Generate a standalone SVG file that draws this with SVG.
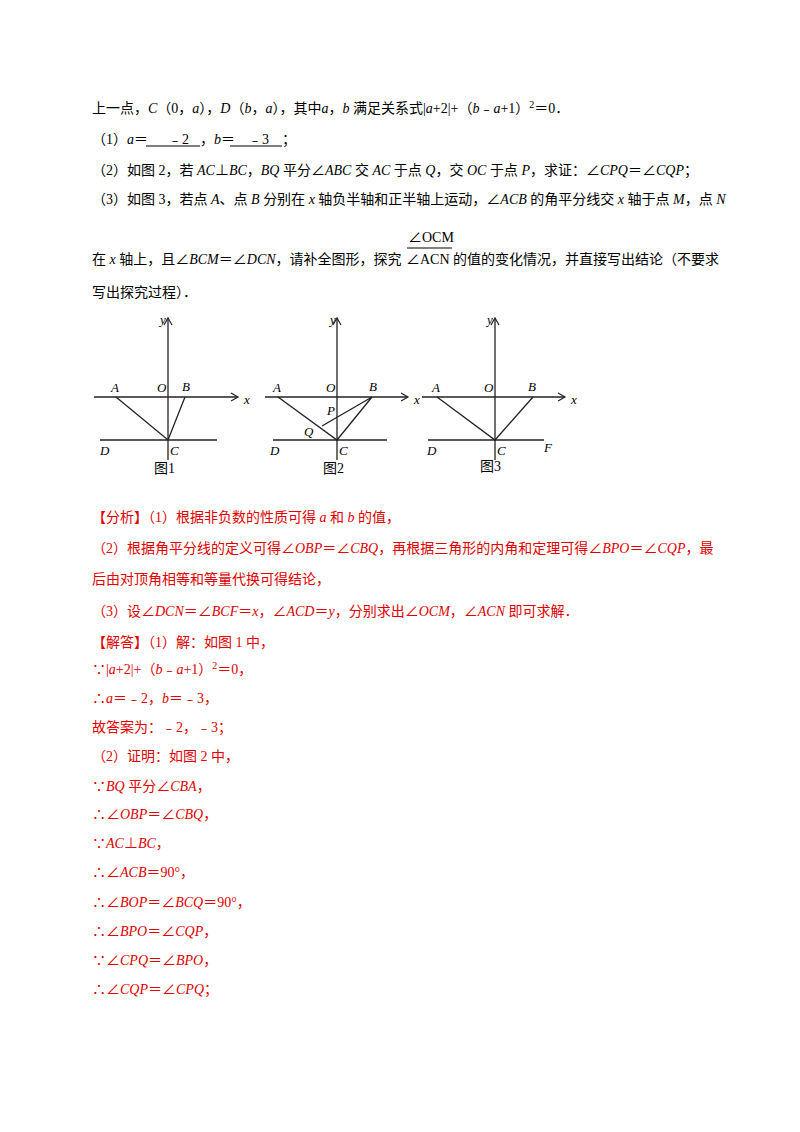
<svg xmlns="http://www.w3.org/2000/svg" width="800" height="1132" viewBox="0 0 800 1132">
<style>
text{font-family:"Liberation Serif","Noto Sans CJK SC",serif;font-size:14px;fill:#000}
.r{fill:#e00000}
.i{font-style:italic}
.ln{stroke:#222;stroke-width:1.3;fill:none}
.lb{font-style:italic;font-size:13px}
</style>
<defs><marker id="ar" markerWidth="10" markerHeight="10" refX="8" refY="5" orient="auto" markerUnits="userSpaceOnUse"><path d="M1,1 L8,5 L1,9" fill="none" stroke="#222" stroke-width="1.2"/></marker></defs>
<rect width="800" height="1132" fill="#fff"/>
<g id="question">
<text x="92" y="113">上一点，<tspan class="i">C</tspan>（0，<tspan class="i">a</tspan>），<tspan class="i">D</tspan>（<tspan class="i">b</tspan>，<tspan class="i">a</tspan>），其中<tspan class="i">a</tspan>，<tspan class="i">b</tspan> 满足关系式|<tspan class="i">a</tspan>+2|+（<tspan class="i">b</tspan>﹣<tspan class="i">a</tspan>+1）<tspan dy="-5" font-size="10">2</tspan><tspan dy="5">＝0．</tspan></text>
<text x="92" y="144">（1）<tspan class="i">a</tspan>＝</text>
<text x="168" y="144">﹣2</text>
<text x="200" y="144">，<tspan class="i">b</tspan>＝</text>
<text x="248" y="144">﹣3</text>
<text x="282" y="144">；</text>
<line x1="146" y1="146" x2="200" y2="146" stroke="#000" stroke-width="1"/>
<line x1="230" y1="146" x2="282" y2="146" stroke="#000" stroke-width="1"/>
<text x="92" y="175">（2）如图 2，若 <tspan class="i">AC</tspan>⊥<tspan class="i">BC</tspan>，<tspan class="i">BQ</tspan> 平分∠<tspan class="i">ABC</tspan> 交 <tspan class="i">AC</tspan> 于点 <tspan class="i">Q</tspan>，交 <tspan class="i">OC</tspan> 于点 <tspan class="i">P</tspan>，求证：∠<tspan class="i">CPQ</tspan>＝∠<tspan class="i">CQP</tspan>；</text>
<text x="92" y="204">（3）如图 3，若点 <tspan class="i">A</tspan>、点 <tspan class="i">B</tspan> 分别在 <tspan class="i">x</tspan> 轴负半轴和正半轴上运动，∠<tspan class="i">ACB</tspan> 的角平分线交 <tspan class="i">x</tspan> 轴于点 <tspan class="i">M</tspan>，点 <tspan class="i">N</tspan></text>
<text x="92" y="264">在 <tspan class="i">x</tspan> 轴上，且∠<tspan class="i">BCM</tspan>＝∠<tspan class="i">DCN</tspan>，请补全图形，探究</text>
<text x="408" y="242" font-size="13">∠OCM</text>
<line x1="407" y1="248" x2="452" y2="248" stroke="#000" stroke-width="1"/>
<text x="406" y="264" font-size="13">∠ACN</text>
<text x="453" y="264">的值的变化情况，并直接写出结论（不要求</text>
<text x="92" y="297">写出探究过程）．</text>
</g>
<g id="connectors">
<line class="ln" x1="168" y1="460" x2="168" y2="318" marker-end="url(#ar)"/>
<line class="ln" x1="94" y1="397" x2="238" y2="397" marker-end="url(#ar)"/>
<line class="ln" x1="100" y1="440" x2="217" y2="440"/>
<polyline class="ln" points="116,397 168,440 185,397"/>
<line class="ln" x1="337" y1="460" x2="337" y2="318" marker-end="url(#ar)"/>
<line class="ln" x1="265" y1="397" x2="408" y2="397" marker-end="url(#ar)"/>
<line class="ln" x1="273" y1="440" x2="387" y2="440"/>
<polyline class="ln" points="278,397 337,440 372,397 322,426"/>
<line class="ln" x1="495" y1="460" x2="495" y2="318" marker-end="url(#ar)"/>
<line class="ln" x1="422" y1="397" x2="565" y2="397" marker-end="url(#ar)"/>
<line class="ln" x1="428" y1="440" x2="544" y2="440"/>
<polyline class="ln" points="437,397 495,440 533,397"/>
</g>
<g id="fig1">
<text class="lb" x="160" y="324">y</text><text class="lb" x="244" y="404">x</text>
<text class="lb" x="111" y="392">A</text><text class="lb" x="157" y="392">O</text><text class="lb" x="182" y="391">B</text>
<text class="lb" x="100" y="455">D</text><text class="lb" x="170" y="455">C</text>
<text x="154" y="473" font-size="13">图1</text>
</g>
<g id="fig2">
<text class="lb" x="330" y="324">y</text><text class="lb" x="414" y="404">x</text>
<text class="lb" x="273" y="392">A</text><text class="lb" x="326" y="392">O</text><text class="lb" x="369" y="391">B</text>
<text class="lb" x="327" y="415">P</text><text class="lb" x="304" y="436">Q</text>
<text class="lb" x="270" y="455">D</text><text class="lb" x="339" y="455">C</text>
<text x="323" y="473" font-size="13">图2</text>
</g>
<g id="fig3">
<text class="lb" x="487" y="324">y</text><text class="lb" x="571" y="404">x</text>
<text class="lb" x="432" y="392">A</text><text class="lb" x="484" y="392">O</text><text class="lb" x="528" y="391">B</text>
<text class="lb" x="427" y="455">D</text><text class="lb" x="497" y="455">C</text><text class="lb" x="544" y="452">F</text>
<text x="480" y="471" font-size="13">图3</text>
</g>
<g id="solution">
<text class="r" x="92" y="522">【分析】（1）根据非负数的性质可得 <tspan class="i">a</tspan> 和 <tspan class="i">b</tspan> 的值，</text>
<text class="r" x="92" y="553">（2）根据角平分线的定义可得∠<tspan class="i">OBP</tspan>＝∠<tspan class="i">CBQ</tspan>，再根据三角形的内角和定理可得∠<tspan class="i">BPO</tspan>＝∠<tspan class="i">CQP</tspan>，最</text>
<text class="r" x="92" y="584">后由对顶角相等和等量代换可得结论，</text>
<text class="r" x="92" y="616">（3）设∠<tspan class="i">DCN</tspan>＝∠<tspan class="i">BCF</tspan>＝<tspan class="i">x</tspan>，∠<tspan class="i">ACD</tspan>＝<tspan class="i">y</tspan>，分别求出∠<tspan class="i">OCM</tspan>，∠<tspan class="i">ACN</tspan> 即可求解．</text>
<text class="r" x="92" y="647">【解答】（1）解：如图 1 中，</text>
<text class="r" x="92" y="674">∵|<tspan class="i">a</tspan>+2|+（<tspan class="i">b</tspan>﹣<tspan class="i">a</tspan>+1）<tspan dy="-5" font-size="10">2</tspan><tspan dy="5">＝0，</tspan></text>
<text class="r" x="92" y="703">∴<tspan class="i">a</tspan>＝﹣2，<tspan class="i">b</tspan>＝﹣3，</text>
<text class="r" x="92" y="732">故答案为：﹣2，﹣3；</text>
<text class="r" x="92" y="761">（2）证明：如图 2 中，</text>
<text class="r" x="92" y="791">∵<tspan class="i">BQ</tspan> 平分∠<tspan class="i">CBA</tspan>，</text>
<text class="r" x="92" y="819">∴∠<tspan class="i">OBP</tspan>＝∠<tspan class="i">CBQ</tspan>，</text>
<text class="r" x="92" y="848">∵<tspan class="i">AC</tspan>⊥<tspan class="i">BC</tspan>，</text>
<text class="r" x="92" y="877">∴∠<tspan class="i">ACB</tspan>＝90°，</text>
<text class="r" x="92" y="907">∴∠<tspan class="i">BOP</tspan>＝∠<tspan class="i">BCQ</tspan>＝90°，</text>
<text class="r" x="92" y="936">∴∠<tspan class="i">BPO</tspan>＝∠<tspan class="i">CQP</tspan>，</text>
<text class="r" x="92" y="965">∵∠<tspan class="i">CPQ</tspan>＝∠<tspan class="i">BPO</tspan>，</text>
<text class="r" x="92" y="994">∴∠<tspan class="i">CQP</tspan>＝∠<tspan class="i">CPQ</tspan>；</text>
</g>
</svg>
